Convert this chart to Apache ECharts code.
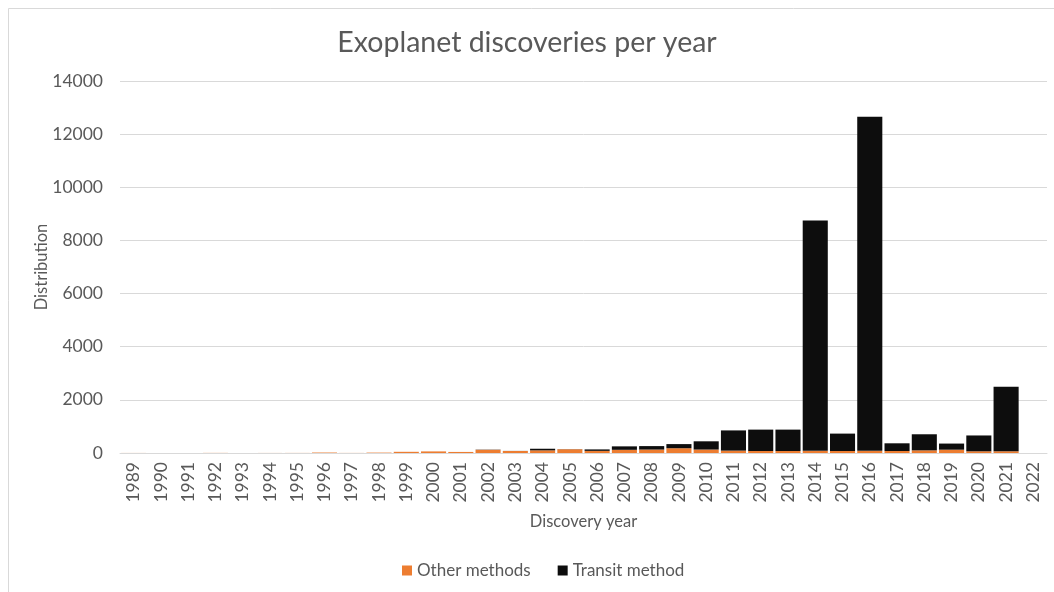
<!DOCTYPE html>
<html>
<head>
<meta charset="utf-8">
<script src="https://cdn.jsdelivr.net/npm/echarts@6/dist/echarts.min.js"></script>
<style>
  html, body { margin: 0; padding: 0; background: #fff; }
  #chart { width: 1054px; height: 592px; }
</style>
</head>
<body>
<div id="chart"></div>
<script>
// Discovery years on the category axis
const years = [
  '1989','1990','1991','1992','1993','1994','1995','1996','1997','1998','1999',
  '2000','2001','2002','2003','2004','2005','2006','2007','2008','2009','2010',
  '2011','2012','2013','2014','2015','2016','2017','2018','2019','2020','2021','2022'
];

// Planets found by methods other than transit
const otherMethods = [
  2, 0, 0, 4, 0, 2, 3, 18, 3, 15, 45,
  60, 40, 120, 75, 100, 140, 80, 120, 130, 180, 130,
  90, 75, 75, 80, 75, 80, 75, 100, 125, 65, 65, 0
];

// Planets found by the transit method
const transitMethod = [
  0, 0, 0, 0, 0, 0, 0, 0, 0, 0, 0,
  0, 0, 8, 3, 60, 5, 55, 130, 130, 155, 310,
  760, 805, 805, 8670, 655, 12570, 290, 605, 230, 595, 2430, 0
];

// Value axis ticks
const yTicks = [0, 2000, 4000, 6000, 8000, 10000, 12000, 14000];

const textColor = '#595959';
const fontFamily = 'Lato, "Open Sans", sans-serif';

const chart = echarts.init(document.getElementById('chart'), null, { renderer: 'canvas' });

chart.setOption({
  animation: false,
  backgroundColor: '#ffffff',
  textStyle: { fontFamily: fontFamily, color: textColor },
  title: {
    text: 'Exoplanet discoveries per year',
    left: 'center',
    top: 23,
    textStyle: { fontFamily: fontFamily, fontSize: 28.5, fontWeight: 'normal', color: textColor }
  },
  legend: {
    bottom: 8,
    left: 397,
    itemWidth: 10,
    itemHeight: 10,
    itemGap: 27,
    icon: 'rect',
    textStyle: { fontFamily: fontFamily, fontSize: 17, color: textColor }
  },
  grid: { left: 120, right: 7, top: 81, bottom: 139, containLabel: false },
  xAxis: {
    type: 'category',
    data: years,
    name: 'Discovery year',
    nameLocation: 'middle',
    nameGap: 60,
    nameMoveOverlap: false,
    nameTextStyle: { fontFamily: fontFamily, fontSize: 16.5, color: textColor },
    axisLine: { show: true, lineStyle: { color: '#d9d9d9', width: 1 } },
    axisTick: { show: false },
    axisLabel: { rotate: 90, margin: 9, fontSize: 17.5, color: textColor, fontFamily: fontFamily, interval: 0 }
  },
  yAxis: {
    type: 'value',
    min: yTicks[0],
    max: yTicks[yTicks.length - 1],
    interval: 2000,
    name: 'Distribution',
    nameLocation: 'middle',
    nameGap: 70,
    nameMoveOverlap: false,
    nameRotate: 90,
    nameTextStyle: { fontFamily: fontFamily, fontSize: 16.5, color: textColor },
    axisLine: { show: false },
    axisTick: { show: false },
    splitLine: { lineStyle: { color: '#d9d9d9', width: 1 } },
    axisLabel: {
      margin: 17,
      fontSize: 17.5,
      color: textColor,
      fontFamily: fontFamily,
      formatter: function (v) { return String(v); }
    }
  },
  series: [
    {
      name: 'Other methods',
      type: 'bar',
      stack: 'total',
      data: otherMethods,
      barCategoryGap: '8%',
      itemStyle: { color: '#ED7D31' }
    },
    {
      name: 'Transit method',
      type: 'bar',
      stack: 'total',
      data: transitMethod,
      barCategoryGap: '8%',
      itemStyle: { color: '#0d0d0d' }
    }
  ],
  graphic: [
    {
      type: 'rect',
      left: 6,
      top: 6,
      shape: { width: 1100, height: 600 },
      style: { fill: 'none', stroke: '#d9d9d9', lineWidth: 1 },
      silent: true
    }
  ]
});
</script>
</body>
</html>
